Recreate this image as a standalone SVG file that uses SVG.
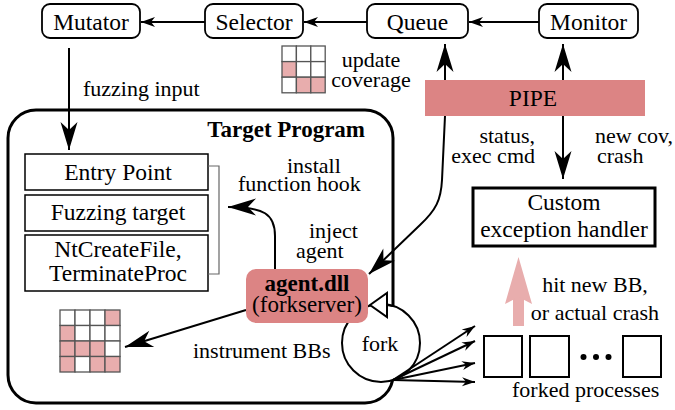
<svg xmlns="http://www.w3.org/2000/svg" width="675" height="410" viewBox="0 0 675 410">
<style>
text{font-family:"Liberation Serif","Times New Roman",serif;fill:#000}
.n{font-size:23.5px;text-anchor:middle}
.a{font-size:22px}
.b{font-weight:bold;font-size:23px}
.box{fill:#fff;stroke:#000;stroke-width:1.8}
.con{fill:none;stroke:#000;stroke-width:2}
.pk{fill:#e8adad}
.cell{stroke:#555;stroke-width:1.3}
</style>
<defs>
<marker id="big" viewBox="-30 -10 32 20" refX="0" refY="0" markerWidth="32" markerHeight="20" markerUnits="userSpaceOnUse" orient="auto"><path d="M0,0 L-28,-8.5 L-20,0 L-28,8.5 z" fill="#000"/></marker>
<marker id="sm" viewBox="-16 -7 18 14" refX="0" refY="0" markerWidth="18" markerHeight="14" markerUnits="userSpaceOnUse" orient="auto"><path d="M0,0 L-14,-5 L-10,0 L-14,5 z" fill="#000"/></marker>
<marker id="fan" viewBox="-16 -7 18 14" refX="0" refY="0" markerWidth="18" markerHeight="14" markerUnits="userSpaceOnUse" orient="auto"><path d="M0,0 L-13,-4.5 L-9,0 L-13,4.5 z" fill="#000"/></marker>
</defs>

<g id="target-program">
<rect x="8" y="110" width="385" height="293" rx="28" fill="none" stroke="#000" stroke-width="3"/>
<text class="b" x="365" y="137" text-anchor="end">Target Program</text>
</g>

<g id="fork">
<circle cx="381" cy="343" r="39" fill="#fff" stroke="#000" stroke-width="2"/>
<text class="a" x="380" y="351" text-anchor="middle">fork</text>
<path d="M393,306 L387,305" class="con"/>
<polygon points="370,305 387,293 387,317" fill="#fff" stroke="#000" stroke-width="2"/>
</g>

<g id="mutator"><rect class="box" x="42" y="4" width="98" height="34" rx="8"/><text class="n" x="91" y="30">Mutator</text></g>
<g id="selector"><rect class="box" x="205" y="4" width="98" height="34" rx="8"/><text class="n" x="254" y="30">Selector</text></g>
<g id="queue"><rect class="box" x="367" y="4" width="101" height="34" rx="8"/><text class="n" x="417.5" y="30">Queue</text></g>
<g id="monitor"><rect class="box" x="539" y="4" width="99" height="34" rx="8"/><text class="n" x="588.5" y="30">Monitor</text></g>

<g id="coverage-small">
<rect class="cell" x="282" y="46" width="14.4" height="15.6" fill="#fff"/>
<rect class="cell" x="296.4" y="46" width="14.4" height="15.6" fill="#fff"/>
<rect class="cell" x="310.8" y="46" width="14.4" height="15.6" fill="#fff"/>
<rect class="cell pk" x="282" y="61.6" width="14.4" height="15.6"/>
<rect class="cell" x="296.4" y="61.6" width="14.4" height="15.6" fill="#fff"/>
<rect class="cell" x="310.8" y="61.6" width="14.4" height="15.6" fill="#fff"/>
<rect class="cell" x="282" y="77.2" width="14.4" height="15.6" fill="#fff"/>
<rect class="cell pk" x="296.4" y="77.2" width="14.4" height="15.6"/>
<rect class="cell pk" x="310.8" y="77.2" width="14.4" height="15.6"/>
<text class="a" x="371" y="67" text-anchor="middle">update</text>
<text class="a" x="371" y="87" text-anchor="middle">coverage</text>
</g>

<g id="pipe">
<rect x="425" y="80" width="220" height="36" fill="#dc8484"/>
<text class="n" x="533" y="106">PIPE</text>
</g>

<g id="custom-handler">
<rect x="473" y="188" width="182" height="58" fill="#fff" stroke="#000" stroke-width="3"/>
<text class="n" x="564" y="210">Custom</text>
<text class="n" x="564" y="237">exception handler</text>
</g>

<g id="entry-point"><rect x="25" y="154" width="183" height="36" fill="#fff" stroke="#000" stroke-width="1.5"/><text class="n" x="118" y="180">Entry Point</text></g>
<g id="fuzzing-target"><rect x="25" y="195" width="183" height="36" fill="#fff" stroke="#000" stroke-width="1.5"/><text class="n" x="118" y="220">Fuzzing target</text></g>
<g id="hooked-apis"><rect x="25" y="235" width="183" height="56" fill="#fff" stroke="#000" stroke-width="1.5"/><text class="n" x="118" y="257">NtCreateFile,</text><text class="n" x="118" y="281">TerminateProc</text></g>
<polyline points="208,166 219,166 219,274 208,274" fill="none" stroke="#666" stroke-width="1.2"/>

<g id="coverage-big">
<rect class="cell" x="60" y="310" width="15" height="15.5" fill="#fff"/>
<rect class="cell" x="75" y="310" width="15" height="15.5" fill="#fff"/>
<rect class="cell" x="90" y="310" width="15" height="15.5" fill="#fff"/>
<rect class="cell pk" x="105" y="310" width="15" height="15.5"/>
<rect class="cell pk" x="60" y="325.5" width="15" height="15.5"/>
<rect class="cell" x="75" y="325.5" width="15" height="15.5" fill="#fff"/>
<rect class="cell" x="90" y="325.5" width="15" height="15.5" fill="#fff"/>
<rect class="cell" x="105" y="325.5" width="15" height="15.5" fill="#fff"/>
<rect class="cell pk" x="60" y="341" width="15" height="15.5"/>
<rect class="cell pk" x="75" y="341" width="15" height="15.5"/>
<rect class="cell pk" x="90" y="341" width="15" height="15.5"/>
<rect class="cell" x="105" y="341" width="15" height="15.5" fill="#fff"/>
<rect class="cell pk" x="60" y="356.5" width="15" height="15.5"/>
<rect class="cell" x="75" y="356.5" width="15" height="15.5" fill="#fff"/>
<rect class="cell pk" x="90" y="356.5" width="15" height="15.5"/>
<rect class="cell pk" x="105" y="356.5" width="15" height="15.5"/>
</g>

<g id="forked-processes">
<rect x="484" y="336" width="38" height="41" fill="#fff" stroke="#000" stroke-width="2"/>
<rect x="530" y="336" width="39" height="41" fill="#fff" stroke="#000" stroke-width="2"/>
<circle cx="583.5" cy="357" r="3"/><circle cx="596" cy="357" r="3"/><circle cx="608.5" cy="357" r="3"/>
<rect x="623" y="336" width="38" height="41" fill="#fff" stroke="#000" stroke-width="2"/>
<text class="a" x="512" y="397">forked processes</text>
</g>

<g id="connectors">
<line class="con" x1="539" y1="22" x2="469" y2="22" marker-end="url(#sm)"/>
<line class="con" x1="367" y1="22" x2="304" y2="22" marker-end="url(#sm)"/>
<line class="con" x1="205" y1="22" x2="141" y2="22" marker-end="url(#sm)"/>
<line class="con" x1="69" y1="48" x2="69" y2="150" marker-end="url(#big)"/>
<line class="con" x1="445" y1="80" x2="445" y2="44" marker-end="url(#big)"/>
<line class="con" x1="563" y1="80" x2="563" y2="44" marker-end="url(#big)"/>
<line class="con" x1="563" y1="116" x2="563" y2="179" marker-end="url(#big)"/>
<path class="con" d="M445,116 L442,180 C441,200 436,210 420,225 L369,274" marker-end="url(#big)"/>
<path class="con" d="M275,269 L275,236 C275,214 264,207 228,207" marker-end="url(#big)"/>
<line class="con" x1="246" y1="310" x2="125" y2="347" marker-end="url(#big)"/>
<line class="con" x1="393" y1="380" x2="475" y2="326" marker-end="url(#fan)"/>
<line class="con" x1="393" y1="380" x2="475" y2="341" marker-end="url(#fan)"/>
<line class="con" x1="393" y1="380" x2="475" y2="363" marker-end="url(#fan)"/>
<line class="con" x1="393" y1="380" x2="475" y2="382" marker-end="url(#fan)"/>
<rect x="513" y="296" width="11" height="30" fill="#e8adad"/>
<polygon points="518.5,257 532,304 518.5,297 505,304" fill="#e8adad"/>
</g>

<g id="agent">
<rect x="246" y="269" width="122" height="54" rx="10" fill="#dc8484"/>
<text class="b" x="307" y="291" text-anchor="middle">agent.dll</text>
<text class="n" x="307" y="312" style="font-size:23px">(forkserver)</text>
</g>

<g id="labels">
<text class="a" x="83" y="96">fuzzing input</text>
<text class="a" x="535" y="143" text-anchor="end">status,</text>
<text class="a" x="535" y="163" text-anchor="end">exec cmd</text>
<text class="a" x="595" y="143">new cov,</text>
<text class="a" x="597" y="163">crash</text>
<text class="a" x="287" y="173">install</text>
<text class="a" x="238" y="191">function hook</text>
<text class="a" x="309" y="238">inject</text>
<text class="a" x="296" y="258">agent</text>
<text class="a" x="193" y="358">instrument BBs</text>
<text class="a" x="595" y="292" text-anchor="middle">hit new BB,</text>
<text class="a" x="595" y="320" text-anchor="middle">or actual crash</text>
</g>
</svg>
